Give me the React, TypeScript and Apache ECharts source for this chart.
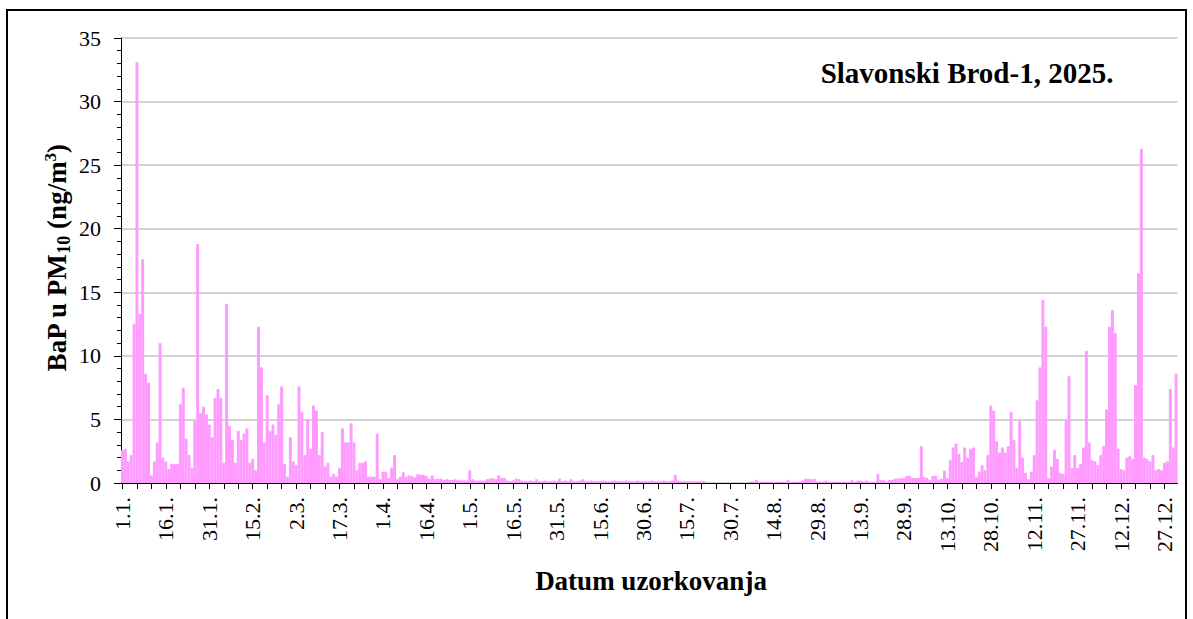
import { useEffect, useRef } from "react";
import * as echarts from "echarts";

// Days in each month of 2025
const MONTH_DAYS = [31, 28, 31, 30, 31, 30, 31, 31, 30, 31, 30, 31];

// Daily BaP in PM10 (ng/m3); null = no sample
const jan = [2.6, 2.7, 1.7, 2.2, 12.5, 33.1, 13.3, 17.6, 8.6, 7.9, 0.6, 1.7, 3.2, 11.0, 2.0, 1.7, 1.1, 1.5, 1.5, 1.5, 6.2, 7.5, 3.5, 2.2, 1.2, 4.9, 18.8, 5.5, 6.0, 5.4, 4.6];
const feb = [3.6, 6.7, 7.4, 6.7, 1.6, 14.1, 4.5, 3.4, 1.6, 4.1, 3.4, 3.9, 4.3, 1.6, 1.9, 1.0, 12.3, 9.1, 3.2, 6.9, 4.1, 4.6, 3.8, 6.2, 7.6, 1.5, 0.5, 3.6];
const mar = [1.7, 1.4, 7.6, 5.6, 2.2, 5.0, 2.7, 6.1, 5.7, 2.2, 4.0, 1.3, 1.6, 0.5, 0.7, 0.5, 1.2, 4.3, 3.2, 3.2, 4.7, 3.2, 1.0, 1.6, 1.6, 1.7, 0.5, 0.5, 0.5, 3.9, 0.3];
const apr = [0.9, 0.9, 0.4, 1.2, 2.2, 0.3, 0.5, 0.85, 0.5, 0.6, 0.55, 0.45, 0.7, 0.65, 0.65, 0.55, 0.35, 0.6, 0.3, 0.35, 0.35, 0.25, 0.3, 0.25, 0.25, 0.3, 0.25, 0.2, 0.25, 0.2];
const may = [1.0, 0.3, 0.2, 0.2, 0.2, 0.2, 0.3, 0.35, 0.4, 0.3, 0.6, 0.4, 0.4, 0.2, 0.15, 0.2, 0.35, 0.3, 0.2, 0.15, 0.15, 0.2, 0.15, 0.3, 0.15, 0.15, 0.2, 0.15, 0.15, 0.2, 0.15];
const jun = [0.35, 0.15, 0.2, 0.15, 0.3, 0.15, 0.15, 0.2, 0.3, 0.15, 0.15, 0.2, 0.15, 0.15, 0.15, 0.2, 0.15, 0.15, 0.15, 0.2, 0.15, 0.15, 0.15, 0.2, 0.15, 0.15, 0.15, 0.2, 0.15, 0.15];
const jul = [0.15, 0.15, 0.2, 0.15, 0.15, 0.15, 0.2, 0.15, 0.15, 0.2, 0.65, 0.2, 0.15, 0.15, 0.15, 0.15, 0.15, 0.15, 0.15, 0.15, 0.15, null, null, null, null, null, null, null, null, null, null];
const aug = [null, null, null, null, null, 0.13, 0.13, 0.26, 0.1, 0.12, 0.1, 0.1, 0.12, 0.1, 0.1, 0.12, 0.1, 0.1, 0.26, 0.1, 0.1, 0.12, 0.1, 0.2, 0.34, 0.34, 0.3, 0.34, 0.12, 0.12, 0.12];
const sep = [0.2, 0.1, 0.1, 0.12, 0.1, 0.1, 0.12, 0.1, 0.1, 0.24, 0.1, 0.2, 0.2, 0.12, 0.2, 0.1, 0.1, 0.1, 0.7, 0.25, 0.25, 0.12, 0.25, 0.25, 0.35, 0.37, 0.4, 0.4, 0.55, 0.58];
const oct = [0.4, 0.4, 0.4, 2.9, 0.47, 0.4, 0.24, 0.55, 0.58, 0.26, 0.34, 0.97, 0.4, 1.8, 2.8, 3.1, 2.3, 1.65, 2.8, 2.0, 2.7, 2.8, 0.5, 0.9, 1.4, 1.0, 2.2, 6.1, 5.7, 3.3, 2.4];
const nov = [2.8, 2.4, 2.9, 5.6, 3.4, 1.2, 4.9, 2.0, 0.8, 0.3, 0.9, 2.2, 6.5, 9.1, 14.4, 12.3, 0.4, 1.3, 2.6, 1.9, 0.8, 0.7, 4.9, 8.4, 1.2, 2.2, 1.2, 1.5, 2.8, 10.4];
const dec = [3.2, 1.8, 1.7, 1.4, 2.2, 2.9, 5.8, 12.3, 13.6, 11.8, 2.7, 1.1, 1.0, 2.0, 2.1, 1.9, 7.7, 16.5, 26.3, 2.0, 1.9, 1.7, 2.2, 1.0, 1.1, 1.0, 1.6, 1.7, 7.4, 2.8, 8.6];

const values = [...jan, ...feb, ...mar, ...apr, ...may, ...jun, ...jul, ...aug, ...sep, ...oct, ...nov, ...dec];

const categories: string[] = [];
MONTH_DAYS.forEach((n, m) => {
  for (let d = 1; d <= n; d++) categories.push(`${d}.${m + 1}.`);
});

const TITLE = "Slavonski Brod-1, 2025.";
const X_NAME = "Datum uzorkovanja";
const Y_MIN = 0;
const Y_MAX = 35;
const Y_STEP = 5;

const FONT = "Liberation Serif";
const BAR = "#ff99ff";

export default function App() {
  const ref = useRef<HTMLDivElement>(null);

  useEffect(() => {
    if (!ref.current) return;
    const chart = echarts.init(ref.current, undefined, { renderer: "svg" });
    chart.setOption({
      animation: false,
      backgroundColor: "transparent",
      textStyle: { fontFamily: FONT },
      grid: { left: 121, right: 15.5, top: 38, bottom: 136, containLabel: false },
      xAxis: {
        type: "category",
        data: categories,
        boundaryGap: true,
        axisLine: { show: true, lineStyle: { color: "#000", width: 1 } },
        axisTick: { show: true, interval: 4, alignWithLabel: true, length: 6, lineStyle: { color: "#000" } },
        axisLabel: { interval: 14, rotate: 90, margin: 14, fontSize: 22, fontFamily: FONT, color: "#000" },
        splitLine: { show: false },
      },
      yAxis: {
        type: "value",
        min: Y_MIN,
        max: Y_MAX,
        interval: Y_STEP,
        axisLine: { show: true, lineStyle: { color: "#000", width: 1 } },
        axisTick: { show: true, length: 7, lineStyle: { color: "#000" } },
        minorTick: { show: true, splitNumber: 5, length: 4, lineStyle: { color: "#000" } },
        axisLabel: { fontSize: 22, fontFamily: FONT, color: "#000", margin: 20 },
        splitLine: { show: true, lineStyle: { color: "#c4c4c4", width: 1.5 } },
      },
      series: [
        {
          type: "bar",
          data: values,
          barCategoryGap: "0%",
          itemStyle: { color: BAR, borderColor: BAR, borderWidth: 1 },
        },
      ],
      graphic: [
        {
          type: "text",
          x: 967,
          y: 73,
          style: {
            text: TITLE,
            fontFamily: FONT,
            fontWeight: "bold",
            fontSize: 29,
            fill: "#000",
            align: "center",
            verticalAlign: "middle",
          },
        },
        {
          type: "text",
          x: 651,
          y: 581,
          style: {
            text: X_NAME,
            fontFamily: FONT,
            fontWeight: "bold",
            fontSize: 27,
            fill: "#000",
            align: "center",
            verticalAlign: "middle",
          },
        },
        {
          type: "text",
          x: 57,
          y: 258,
          rotation: Math.PI / 2,
          style: {
            text: "{m|BaP u PM}{sub|10}{m| (ng/m}{sup|3}{m|)}",
            align: "center",
            verticalAlign: "middle",
            fill: "#000",
            rich: {
              m: { fontFamily: FONT, fontWeight: "bold", fontSize: 27, fill: "#000", lineHeight: 31 },
              sub: { fontFamily: FONT, fontWeight: "bold", fontSize: 18, fill: "#000", verticalAlign: "bottom", lineHeight: 31 },
              sup: { fontFamily: FONT, fontWeight: "bold", fontSize: 17, fill: "#000", verticalAlign: "top", lineHeight: 19 },
            },
          },
        },
      ],
    });
    return () => chart.dispose();
  }, []);

  return (
    <div style={{ position: "fixed", left: 0, top: 0, width: 1193, height: 619, overflow: "hidden", background: "#fff" }}>
      <div
        style={{
          position: "absolute",
          left: 6,
          top: 9,
          width: 1181,
          height: 700,
          border: "2px solid #000",
          boxSizing: "border-box",
        }}
      />
      <div ref={ref} style={{ position: "absolute", left: 0, top: 0, width: 1193, height: 619 }} />
    </div>
  );
}
